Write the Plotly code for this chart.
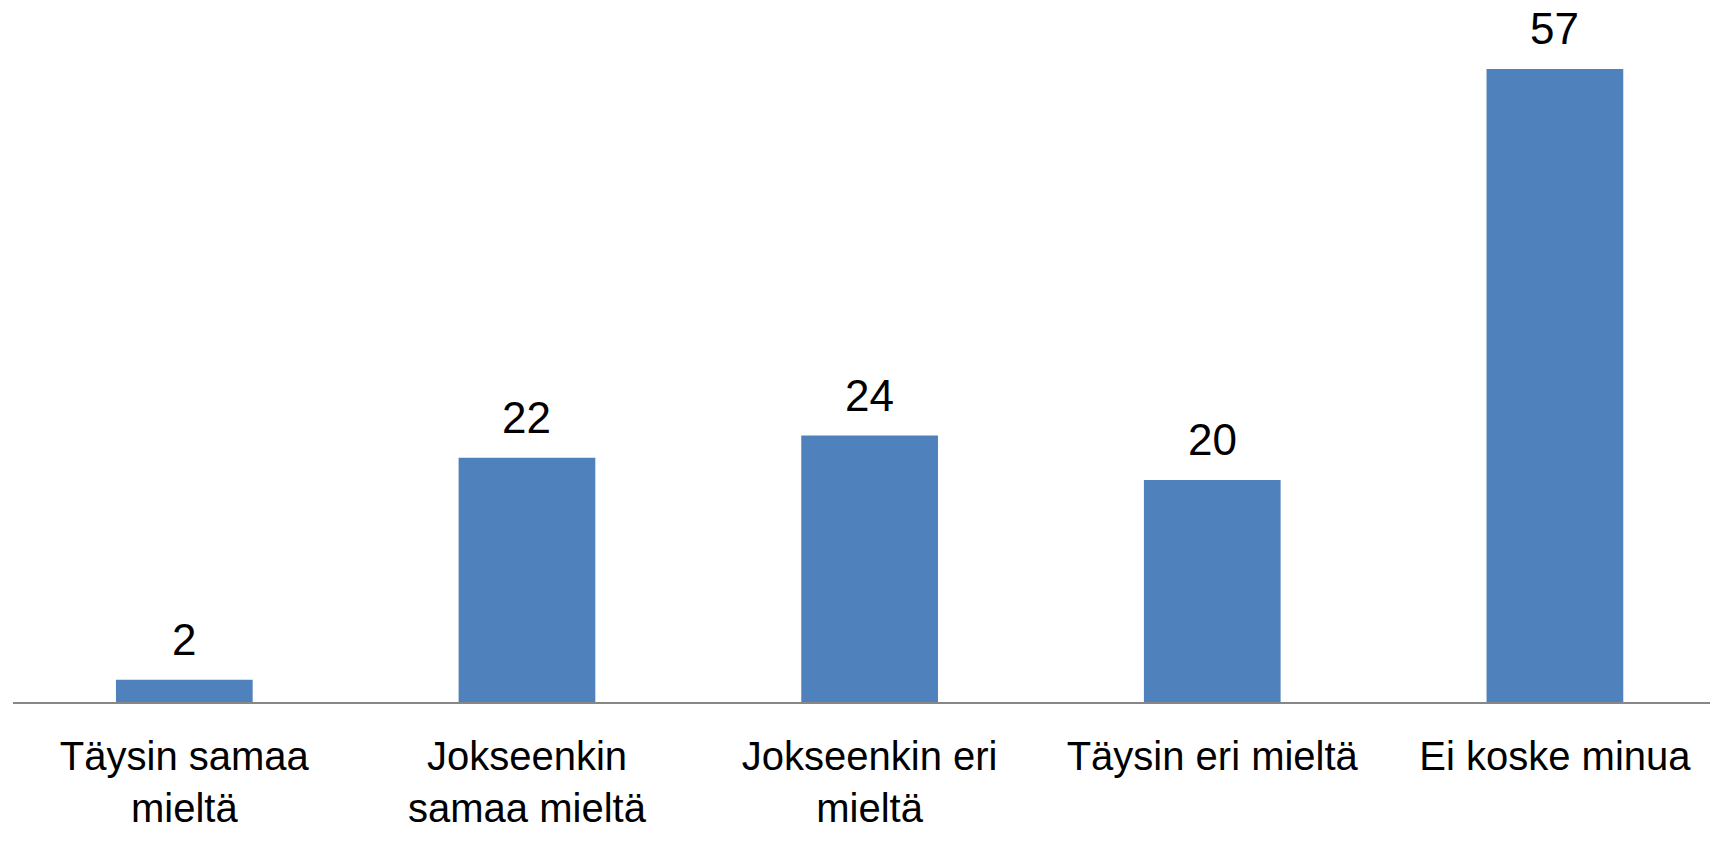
import plotly.graph_objects as go

categories = ["Täysin samaa<br>mieltä", "Jokseenkin<br>samaa mieltä", "Jokseenkin eri<br>mieltä",
              "Täysin eri mieltä", "Ei koske minua"]
values = [2, 22, 24, 20, 57]

FONT = "Liberation Sans, Arial, sans-serif"

fig = go.Figure()
fig.add_trace(go.Bar(x=categories, y=values, marker=dict(color="#4F81BD", line=dict(width=0)),
                     hoverinfo="skip"))

for c, v in zip(categories, values):
    fig.add_annotation(x=c, y=v, text=str(v), showarrow=False, yanchor="bottom", yshift=14,
                       font=dict(family=FONT, size=44, color="#000000"))

fig.update_layout(
    width=1710, height=835,
    margin=dict(l=5, r=0, t=0, b=141),
    paper_bgcolor="white", plot_bgcolor="white",
    bargap=0.601,
    showlegend=False,
    xaxis=dict(range=[-0.5, 4.476], showline=True, linecolor="#878787", linewidth=2,
               ticks="", ticklabelstandoff=18,
               tickfont=dict(family=FONT, size=40, color="#000000"),
               showgrid=False, zeroline=False, fixedrange=True),
    yaxis=dict(range=[0, 62.5], visible=False, showgrid=False, zeroline=False, fixedrange=True),
)

fig.write_html("out.html", config={"displayModeBar": False})
